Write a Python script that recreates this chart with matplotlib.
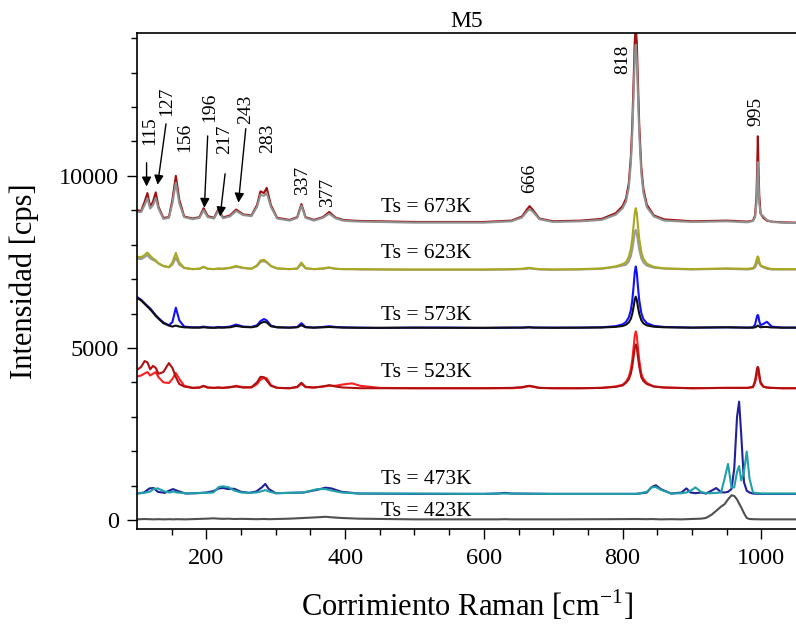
import numpy as np
import matplotlib
matplotlib.use('Agg')
import matplotlib.pyplot as plt

plt.rcParams['font.family'] = ['Liberation Serif', 'DejaVu Serif']
plt.rcParams['mathtext.fontset'] = 'custom'
plt.rcParams['mathtext.rm'] = 'Liberation Serif'

# shared Raman shift grid for the upper four pairs of spectra
x_hi = [100, 106, 111, 115, 119, 123, 127, 131, 138, 146,
        151, 156, 161, 168, 180, 190, 196, 202, 211, 217,
        224, 234, 243, 253, 265, 273, 278, 283, 287, 293,
        302, 320, 331, 337, 343, 355, 368, 377, 386, 397,
        410, 422, 450, 500, 550, 600, 640, 655, 662, 666,
        671, 680, 700, 740, 770, 790, 800, 805, 809, 812,
        814, 816, 817.5, 819, 820.5, 822, 824, 827, 830, 835,
        845, 860, 900, 950, 980, 988, 991, 993, 994, 995,
        996, 997, 999, 1003, 1008, 1015, 1030, 1050]

y_673_red = [9000, 8980, 9250, 9500, 9100, 9250, 9520, 9100, 8780, 8800,
             9300, 10000, 9300, 8820, 8760, 8800, 9060, 8830, 8780, 9020,
             8790, 8850, 9020, 8880, 8850, 9150, 9550, 9500, 9650, 9150,
             8780, 8720, 8800, 9180, 8800, 8720, 8800, 8950, 8790, 8720,
             8700, 8690, 8680, 8660, 8660, 8660, 8700, 8820, 9020, 9120,
             9000, 8760, 8680, 8700, 8750, 8915, 9120, 9345, 9790, 10580,
             11500, 12840, 13880, 14350, 13880, 12840, 11500, 10250, 9620, 9160,
             8850, 8735, 8680, 8700, 8670, 8700, 8850, 9400, 10200, 11150,
             10200, 9450, 8900, 8780, 8700, 8670, 8650, 8640]
y_673_gray = [8950, 8950, 9150, 9350, 9050, 9150, 9350, 9050, 8750, 8780,
              9200, 9800, 9200, 8800, 8740, 8780, 9000, 8800, 8760, 8980,
              8770, 8820, 8980, 8860, 8830, 9100, 9450, 9420, 9500, 9100,
              8760, 8700, 8780, 9130, 8780, 8700, 8780, 8900, 8770, 8700,
              8680, 8670, 8660, 8640, 8640, 8640, 8680, 8790, 8960, 9030,
              8950, 8740, 8660, 8680, 8720, 8870, 9057, 9255, 9666, 10380,
              11220, 12440, 13380, 13810, 13380, 12440, 11220, 10080, 9510, 9090,
              8820, 8700, 8660, 8680, 8650, 8690, 8800, 9200, 9800, 10400,
              9800, 9200, 8900, 8820, 8720, 8660, 8640, 8630]

y_623_gray = [7600, 7580, 7640, 7700, 7600, 7560, 7520, 7450, 7380, 7340,
              7420, 7620, 7420, 7320, 7290, 7300, 7350, 7300, 7290, 7300,
              7300, 7320, 7360, 7320, 7300, 7380, 7500, 7520, 7480, 7380,
              7310, 7290, 7300, 7440, 7310, 7290, 7300, 7330, 7300, 7290,
              7290, 7280, 7280, 7270, 7270, 7270, 7280, 7290, 7300, 7310,
              7300, 7280, 7270, 7280, 7300, 7353, 7394, 7419, 7518, 7675,
              7860, 8128, 8335, 8430, 8335, 8128, 7860, 7609, 7484, 7391,
              7331, 7307, 7280, 7300, 7280, 7300, 7340, 7420, 7480, 7520,
              7500, 7450, 7380, 7340, 7300, 7280, 7280, 7280]
y_623_olive = [7650, 7640, 7700, 7770, 7680, 7600, 7540, 7460, 7380, 7350,
               7480, 7760, 7480, 7330, 7290, 7300, 7360, 7300, 7290, 7310,
               7300, 7330, 7380, 7330, 7300, 7400, 7540, 7560, 7500, 7380,
               7310, 7290, 7310, 7480, 7320, 7290, 7310, 7340, 7300, 7290,
               7290, 7290, 7280, 7280, 7280, 7280, 7290, 7300, 7320, 7330,
               7310, 7290, 7280, 7290, 7310, 7370, 7435, 7490, 7644, 7888,
               8175, 8590, 8913, 9060, 8913, 8590, 8175, 7786, 7591, 7448,
               7354, 7310, 7290, 7310, 7300, 7320, 7400, 7550, 7630, 7660,
               7620, 7520, 7400, 7360, 7330, 7290, 7290, 7290]

y_573_blue = [6480, 6400, 6300, 6220, 6150, 6050, 5950, 5870, 5740, 5660,
              5750, 6170, 5800, 5620, 5600, 5600, 5620, 5600, 5590, 5610,
              5600, 5620, 5680, 5620, 5610, 5660, 5780, 5840, 5800, 5650,
              5600, 5590, 5610, 5720, 5610, 5590, 5610, 5630, 5610, 5600,
              5590, 5590, 5580, 5590, 5590, 5580, 5590, 5590, 5600, 5600,
              5595, 5590, 5590, 5590, 5600, 5633, 5684, 5757, 5892, 6105,
              6389, 6815, 7188, 7365, 7188, 6815, 6389, 6016, 5838, 5720,
              5641, 5610, 5590, 5600, 5590, 5600, 5680, 5850, 5930, 5960,
              5900, 5780, 5660, 5700, 5760, 5620, 5590, 5590]
y_573_black = [6450, 6380, 6280, 6200, 6120, 6030, 5930, 5850, 5720, 5650,
               5620, 5650, 5620, 5600, 5590, 5590, 5600, 5590, 5585, 5590,
               5590, 5600, 5640, 5610, 5600, 5630, 5720, 5760, 5740, 5630,
               5600, 5590, 5600, 5660, 5600, 5590, 5600, 5610, 5600, 5590,
               5590, 5585, 5585, 5590, 5585, 5585, 5590, 5590, 5595, 5600,
               5590, 5590, 5585, 5590, 5595, 5612, 5638, 5675, 5743, 5851,
               5995, 6211, 6400, 6490, 6400, 6211, 5995, 5806, 5716, 5656,
               5616, 5600, 5590, 5600, 5590, 5590, 5600, 5620, 5640, 5650,
               5640, 5620, 5600, 5610, 5610, 5595, 5590, 5590]

y_523_light = [4170, 4200, 4260, 4300, 4200, 4250, 4300, 4150, 4000, 3980,
               4100, 4270, 4100, 3900, 3840, 3850, 3890, 3850, 3840, 3850,
               3840, 3860, 3900, 3860, 3850, 3950, 4080, 4130, 4120, 3920,
               3840, 3830, 3860, 3960, 3860, 3850, 3880, 3900, 3900, 3940,
               3970, 3900, 3840, 3830, 3830, 3830, 3830, 3850, 3880, 3890,
               3870, 3840, 3830, 3830, 3840, 3880, 3930, 4020, 4160, 4390,
               4655, 5040, 5350, 5480, 5350, 5040, 4655, 4250, 4100, 3980,
               3880, 3850, 3830, 3840, 3840, 3860, 3990, 4180, 4270, 4300,
               4260, 4150, 3960, 3870, 3850, 3840, 3830, 3830]
y_523_dark = [4360, 4450, 4620, 4580, 4380, 4480, 4420, 4250, 4300, 4560,
              4420, 4150, 3950, 3880, 3840, 3850, 3900, 3850, 3840, 3850,
              3840, 3860, 3880, 3850, 3860, 4000, 4160, 4150, 4050, 3900,
              3840, 3830, 3870, 3990, 3870, 3850, 3880, 3920, 3880, 3850,
              3840, 3830, 3830, 3830, 3830, 3830, 3840, 3860, 3890, 3900,
              3880, 3840, 3830, 3830, 3840, 3870, 3910, 3990, 4090, 4260,
              4465, 4760, 5000, 5100, 5000, 4760, 4465, 4150, 4040, 3950,
              3880, 3850, 3830, 3840, 3840, 3870, 4050, 4300, 4420, 4450,
              4400, 4250, 4000, 3880, 3850, 3840, 3830, 3830]

# grid for the two lowest temperatures
x_lo = [100, 110, 118, 124, 130, 140, 147, 152, 158, 170,
        185, 200, 210, 218, 224, 232, 240, 250, 262, 272,
        280, 285, 290, 300, 320, 340, 360, 372, 380, 395,
        420, 500, 600, 620, 630, 640, 700, 780, 820, 835,
        842, 848, 855, 870, 885, 892, 898, 905, 913, 920,
        928, 935, 942, 947, 952, 957, 961, 965, 968, 971,
        975, 979, 983, 988, 1000, 1050]

y_473_navy = [770, 800, 920, 930, 820, 790, 860, 900, 850, 770,
              780, 800, 840, 920, 930, 900, 910, 820, 790, 830,
              950, 1050, 900, 780, 790, 800, 880, 940, 920, 820,
              770, 760, 760, 770, 790, 770, 760, 760, 760, 800,
              960, 1010, 900, 770, 800, 920, 800, 780, 800, 770,
              850, 930, 810, 800, 820, 900, 1500, 3000, 3440, 2500,
              1100, 850, 800, 770, 760, 760]
y_473_teal = [770, 790, 820, 900, 920, 830, 800, 830, 800, 780,
              780, 790, 800, 960, 980, 950, 860, 800, 790, 800,
              840, 870, 830, 780, 790, 800, 900, 900, 860, 800,
              770, 770, 760, 770, 770, 770, 760, 760, 760, 820,
              950, 960, 880, 770, 780, 800, 850, 950, 820, 780,
              780, 790, 800, 1200, 1630, 950, 950, 1400, 1570, 1150,
              1400, 1990, 1200, 800, 770, 770]
y_423 = [20, 30, 25, 20, 25, 20, 25, 20, 25, 20,
         30, 40, 50, 40, 35, 40, 30, 35, 30, 25,
         30, 30, 25, 30, 40, 60, 80, 95, 80, 60,
         40, 20, 20, 20, 25, 20, 20, 25, 30, 25,
         30, 25, 20, 25, 20, 25, 30, 35, 40, 60,
         150, 270, 390, 460, 600, 720, 700, 600, 480, 370,
         200, 60, 30, 25, 20, 20]

ts_labels = ['Ts = 673K', 'Ts = 623K', 'Ts = 573K', 'Ts = 523K', 'Ts = 473K', 'Ts = 423K']
ts_label_y = [9070, 7733, 5930, 4273, 1192, 262]

peak_labels = ['115', '127', '156', '196', '217', '243', '283', '337', '377', '666', '818', '995']
peak_text_xy = [(119, 11300), (142.7, 12180), (169, 11130), (205, 11980), (227, 11050),
                (256, 11920), (288, 11080), (338.6, 9860), (374.7, 9510), (666.4, 9940),
                (800.7, 13400), (992.8, 11860)]
# arrow (start, end) for the labels that point at a peak
peak_arrows = {'115': ((113.8, 10380), (113.8, 9690)),
               '127': ((141.8, 11510), (129.7, 9740)),
               '196': ((201.9, 11160), (197.1, 9070)),
               '217': ((227, 10060), (219.8, 8820)),
               '243': ((256.8, 11370), (246.2, 9220))}

fig = plt.figure(figsize=(7.96, 6.26), dpi=100)
ax = fig.add_axes([137/796, 1-529/626, 659/796, 496/626])

lw = 1.5
ax.plot(x_hi, y_673_red, color='#a01010', lw=lw)
ax.plot(x_hi, y_673_gray, color='#909090', lw=lw)
ax.plot(x_hi, y_623_gray, color='#9a9a9a', lw=lw)
ax.plot(x_hi, y_623_olive, color='#a8a81e', lw=lw)
ax.plot(x_hi, y_573_blue, color='#1010ff', lw=lw)
ax.plot(x_hi, y_573_black, color='#101010', lw=lw)
ax.plot(x_hi, y_523_light, color='#ff2020', lw=lw)
ax.plot(x_hi, y_523_dark, color='#b01010', lw=lw)
ax.plot(x_lo, y_473_navy, color='#20209a', lw=lw)
ax.plot(x_lo, y_473_teal, color='#20a0a8', lw=lw)
ax.plot(x_lo, y_423, color='#505050', lw=lw)

for lab, yy in zip(ts_labels, ts_label_y):
    ax.text(452, yy, lab, fontsize=15.5, ha='left', va='center')

for lab, (tx, ty) in zip(peak_labels, peak_text_xy):
    ax.text(tx, ty, lab, fontsize=14, rotation=90, ha='center', va='center')
    if lab in peak_arrows:
        start, end = peak_arrows[lab]
        ax.annotate('', xy=end, xytext=start,
                    arrowprops=dict(arrowstyle='-|>', color='k', lw=1.0,
                                    mutation_scale=14, shrinkA=0, shrinkB=0))

ax.set_xlim(100, 1050)
ax.set_ylim(-260, 14150)
ax.set_xticks([200, 400, 600, 800, 1000])
ax.set_xticks(np.arange(150, 1050, 50), minor=True)
ax.set_yticks([0, 5000, 10000])
ax.set_yticks(np.arange(0, 14001, 1000), minor=True)
ax.tick_params(which='major', direction='out', length=7, width=1, labelsize=17.5)
ax.tick_params(axis='x', which='major', pad=7)
ax.tick_params(axis='y', which='major', pad=6)
ax.tick_params(which='minor', direction='out', length=4, width=1)
ax.spines['right'].set_visible(False)
for s in ['left', 'bottom', 'top']:
    ax.spines[s].set_linewidth(1.2)

ax.set_xlabel('Corrimiento Raman [cm$^{-1}$]', fontsize=22, labelpad=14)
ax.set_ylabel('Intensidad [cps]', fontsize=22, labelpad=14)
ax.set_title('M5', fontsize=17, pad=4)

fig.savefig('out.png', dpi=100)
